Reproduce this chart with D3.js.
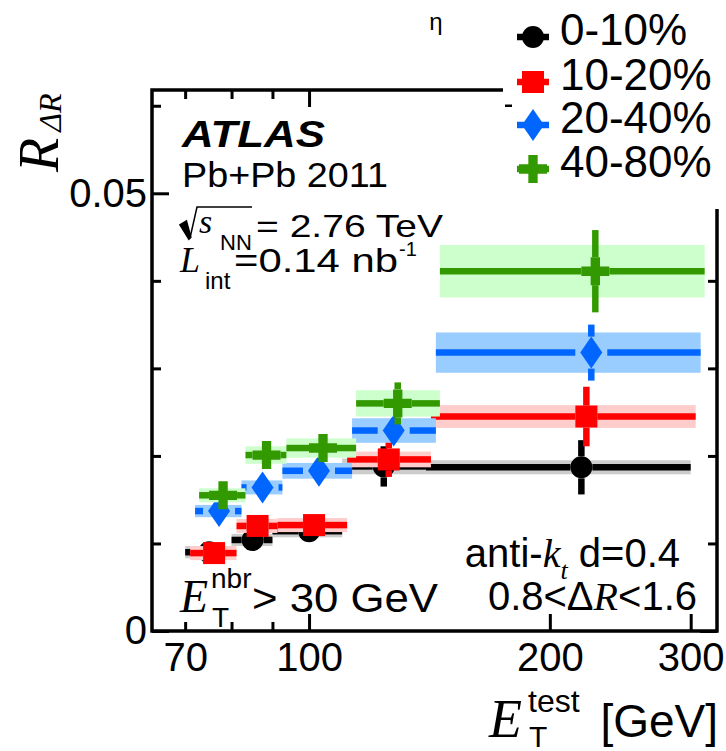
<!DOCTYPE html>
<html>
<head>
<meta charset="UTF-8">
<title>R_dR vs ET test</title>
<script src="https://cdn.jsdelivr.net/npm/d3@7"></script>
<style>
  body { margin: 0; background: #fff; }
  text { font-family: "Liberation Sans", Arial, sans-serif; fill: #000; }
  .it { font-family: "Liberation Serif", "Times New Roman", serif; font-style: italic; }
</style>
</head>
<body>
<script>
// bins in E_T^test [GeV]
var binLo = [70, 80, 90, 110, 140];
var binHi = [80, 90, 110, 140, 300];
var binCenter = [75, 85, 100, 124, 219];

var centralities = ["0-10%", "10-20%", "20-40%", "40-80%"];
// small horizontal offset of each centrality (multiplicative, as in the plot)
var xShift = [1.0, 1.0145, 1.029, 1.041];

var val0010 = [0.0090, 0.0104, 0.0114, 0.0188, 0.0187];
var val1020 = [0.0089, 0.0120, 0.0121, 0.0196, 0.0245];
var val2040 = [0.0137, 0.0164, 0.0183, 0.0229, 0.0318];
var val4080 = [0.0155, 0.0201, 0.0209, 0.0260, 0.0411];

var stat0010 = [0.0005, 0.0006, 0.0006, 0.0023, 0.0031];
var stat1020 = [0.0005, 0.0007, 0.0007, 0.0020, 0.0034];
var stat2040 = [0.0008, 0.0010, 0.0010, 0.0017, 0.0032];
var stat4080 = [0.0008, 0.0010, 0.0010, 0.0024, 0.0047];

var sys0010 = [0.0007, 0.0007, 0.0007, 0.0009, 0.0008];
var sys1020 = [0.0008, 0.0008, 0.0008, 0.0009, 0.0013];
var sys2040 = [0.0007, 0.0008, 0.0009, 0.0014, 0.0023];
var sys4080 = [0.0008, 0.0010, 0.0011, 0.0015, 0.0030];

var xTickLabels = [70, 100, 200, 300];
var xTickMinor = [70, 80, 90];
var xTickMajor = [100, 200, 300];
var yTickLabels = [0, 0.05];
var yTickMinor = [0.01, 0.02, 0.03, 0.04, 0.06];

var W = 726, H = 751;
var pl = 152, pr = 717, pt = 90, pb = 631;

var svg = d3.select("body").append("svg")
    .attr("width", W).attr("height", H);

var x = d3.scaleLog().domain([63.63, 323.6]).range([pl, pr]);
var y = d3.scaleLinear().domain([0, 0.0618]).range([pb, pt]);

var lineCol = ["#000000", "#ff0000", "#0066ff", "#339900"];
var bandCol = ["#cccccc", "#ffcccc", "#99ccff", "#ccffcc"];
var gaps = [11, 11, 16, 14];

var diamond = {
    draw: function(ctx, size) {
        var h = 16, w = 11;
        ctx.moveTo(0, -h); ctx.lineTo(w, 0); ctx.lineTo(0, h); ctx.lineTo(-w, 0); ctx.closePath();
    }
};
var markers = [
    d3.symbol().type(d3.symbolCircle).size(Math.PI * 11 * 11),
    d3.symbol().type(d3.symbolSquare).size(22 * 22),
    d3.symbol().type(diamond).size(1),
    d3.symbol().type(d3.symbolCross).size(5 * (28 / 3) * (28 / 3))
];

var vals = [val0010, val1020, val2040, val4080];
var stats = [stat0010, stat1020, stat2040, stat4080];
var syss = [sys0010, sys1020, sys2040, sys4080];

// axes (inward ticks, no domain line)
function inAxis(g) { g.select(".domain").remove(); g.selectAll("line").attr("stroke", "#000").attr("stroke-width", 3); }

svg.append("g").attr("transform", "translate(0," + pb + ")")
    .call(d3.axisBottom(x).tickValues(xTickMinor).tickSize(-9).tickFormat(""))
    .call(inAxis);
svg.append("g").attr("transform", "translate(0," + pb + ")")
    .call(d3.axisBottom(x).tickValues(xTickMajor).tickSize(-17).tickFormat(""))
    .call(inAxis);
svg.append("g").attr("transform", "translate(0," + pt + ")")
    .call(d3.axisTop(x).tickValues(xTickMinor).tickSize(-9).tickFormat(""))
    .call(inAxis);
svg.append("g").attr("transform", "translate(0," + pt + ")")
    .call(d3.axisTop(x).tickValues(xTickMajor).tickSize(-17).tickFormat(""))
    .call(inAxis);

var xl = svg.append("g").attr("transform", "translate(0," + pb + ")")
    .call(d3.axisBottom(x).tickValues(xTickLabels).tickSize(0).tickPadding(12).tickFormat(d3.format("d")))
    .call(inAxis);
xl.selectAll("text").attr("font-size", 40).attr("font-family", "Liberation Sans");

svg.append("g").attr("transform", "translate(" + pl + ",0)")
    .call(d3.axisLeft(y).tickValues(yTickMinor).tickSize(-9).tickFormat(""))
    .call(inAxis);
var yl = svg.append("g").attr("transform", "translate(" + pl + ",0)")
    .call(d3.axisLeft(y).tickValues(yTickLabels).tickSize(-17).tickPadding(5)
        .tickFormat(function(d) { return d === 0 ? "0" : d3.format(".2f")(d); }))
    .call(inAxis);
yl.selectAll("text").attr("font-size", 40).attr("font-family", "Liberation Sans");
svg.append("g").attr("transform", "translate(" + pr + ",0)")
    .call(d3.axisRight(y).tickValues(yTickMinor).tickSize(-9).tickFormat(""))
    .call(inAxis);
svg.append("g").attr("transform", "translate(" + pr + ",0)")
    .call(d3.axisRight(y).tickValues(yTickLabels).tickSize(-17).tickFormat(""))
    .call(inAxis);

// frame
svg.append("rect").attr("x", pl).attr("y", pt)
    .attr("width", pr - pl).attr("height", pb - pt)
    .attr("fill", "none").attr("stroke", "#000").attr("stroke-width", 3.5);

// data
var plot = svg.append("g");
centralities.forEach(function(c, s) {
    var g = plot.append("g");
    var pts = vals[s].map(function(v, i) {
        return {
            xl: x(binLo[i] * xShift[s]), xr: x(binHi[i] * xShift[s]), xc: x(binCenter[i] * xShift[s]),
            yc: y(v), yt: y(v + syss[s][i]), yb: y(v - syss[s][i]),
            st: y(0) - y(stats[s][i])
        };
    });
    g.selectAll("rect.band").data(pts).enter().append("rect")
        .attr("x", function(d) { return d.xl; })
        .attr("y", function(d) { return d.yt; })
        .attr("width", function(d) { return d.xr - d.xl; })
        .attr("height", function(d) { return d.yb - d.yt; })
        .attr("fill", bandCol[s]);
    var gap = gaps[s];
    pts.forEach(function(d) {
        var segs = [[d.xl, d.yc, d.xc - gap, d.yc], [d.xc + gap, d.yc, d.xr, d.yc]];
        if (d.st > gap) {
            segs.push([d.xc, d.yc - d.st, d.xc, d.yc - gap]);
            segs.push([d.xc, d.yc + gap, d.xc, d.yc + d.st]);
        }
        segs.forEach(function(sg) {
            g.append("line").attr("x1", sg[0]).attr("y1", sg[1]).attr("x2", sg[2]).attr("y2", sg[3])
                .attr("stroke", lineCol[s]).attr("stroke-width", 6.5);
        });
    });
    g.selectAll("path.mk").data(pts).enter().append("path")
        .attr("transform", function(d) { return "translate(" + d.xc + "," + d.yc + ")"; })
        .attr("d", markers[s]())
        .attr("fill", lineCol[s]);
});

// legend (covers frame corner)
svg.append("rect").attr("x", 503).attr("y", 0).attr("width", W - 503).attr("height", 209).attr("fill", "#fff");
svg.append("line").attr("x1", 505).attr("x2", 512).attr("y1", y(0.06)).attr("y2", y(0.06))
    .attr("stroke", "#000").attr("stroke-width", 2.5);
svg.append("text").attr("x", 436).attr("y", 30).attr("font-size", 24).attr("text-anchor", "middle").text("η");

var legY = [45, 90, 133, 177];
centralities.forEach(function(c, s) {
    var my = legY[s] - 8;
    svg.append("line").attr("x1", 517).attr("x2", 549).attr("y1", my).attr("y2", my)
        .attr("stroke", lineCol[s]).attr("stroke-width", 6.5);
    svg.append("path").attr("transform", "translate(533," + my + ")")
        .attr("d", markers[s]()).attr("fill", lineCol[s]);
    svg.append("text").attr("x", 560).attr("y", legY[s]).attr("font-size", 44).text(c);
});

// labels inside the frame
svg.append("text").attr("x", 182).attr("y", 147).attr("font-size", 36)
    .attr("font-weight", "bold").attr("font-style", "italic")
    .attr("textLength", 143).attr("lengthAdjust", "spacingAndGlyphs").text("ATLAS");
svg.append("text").attr("x", 182).attr("y", 187).attr("font-size", 35)
    .attr("textLength", 206).attr("lengthAdjust", "spacingAndGlyphs").text("Pb+Pb 2011");

svg.append("path").attr("d", "M180,226 L186,223 L190,238 L197,207 L252,207")
    .attr("fill", "none").attr("stroke", "#000").attr("stroke-width", 1.5);
svg.append("path").attr("d", "M181,225 L186,222 L190,237 L189,238 Z")
    .attr("fill", "#000").attr("stroke", "#000").attr("stroke-width", 3);
svg.append("text").attr("class", "it").attr("x", 199).attr("y", 233).attr("font-size", 34).text("s");
svg.append("text").attr("x", 220).attr("y", 250).attr("font-size", 22).text("NN");
svg.append("text").attr("x", 256).attr("y", 237).attr("font-size", 32)
    .attr("textLength", 187).attr("lengthAdjust", "spacingAndGlyphs").text("= 2.76 TeV");

svg.append("text").attr("class", "it").attr("x", 180).attr("y", 272).attr("font-size", 36).text("L");
svg.append("text").attr("x", 205).attr("y", 289).attr("font-size", 24).text("int");
svg.append("text").attr("x", 234).attr("y", 272).attr("font-size", 33)
    .attr("textLength", 164).attr("lengthAdjust", "spacingAndGlyphs").text("=0.14 nb");
svg.append("text").attr("x", 399).attr("y", 256).attr("font-size", 20).text("-1");

var ak = svg.append("text").attr("x", 680).attr("y", 567).attr("font-size", 40).attr("text-anchor", "end");
ak.append("tspan").text("anti-");
ak.append("tspan").attr("class", "it").text("k");
ak.append("tspan").attr("class", "it").attr("font-size", 26).attr("dy", 12).text("t");
ak.append("tspan").attr("dy", -12).text(" d=0.4");

var dr = svg.append("text").attr("x", 697).attr("y", 610).attr("font-size", 40).attr("text-anchor", "end");
dr.append("tspan").text("0.8<Δ");
dr.append("tspan").attr("class", "it").text("R");
dr.append("tspan").text("<1.6");

svg.append("text").attr("class", "it").attr("x", 180).attr("y", 612).attr("font-size", 46).text("E");
svg.append("text").attr("x", 211).attr("y", 588).attr("font-size", 28).text("nbr");
svg.append("text").attr("x", 212).attr("y", 627).attr("font-size", 28).text("T");
svg.append("text").attr("x", 252).attr("y", 612).attr("font-size", 40)
    .attr("textLength", 186).attr("lengthAdjust", "spacingAndGlyphs").text("> 30 GeV");

// x title
svg.append("text").attr("class", "it").attr("x", 489).attr("y", 737).attr("font-size", 54).text("E");
svg.append("text").attr("x", 528).attr("y", 712).attr("font-size", 32).text("test");
svg.append("text").attr("x", 529).attr("y", 747).attr("font-size", 30).text("T");
svg.append("text").attr("x", 718).attr("y", 737).attr("font-size", 46).attr("text-anchor", "end").text("[GeV]");

// y title
var yt = svg.append("text").attr("transform", "translate(58,172) rotate(-90)").attr("font-size", 56);
yt.append("tspan").attr("class", "it").text("R");
yt.append("tspan").attr("class", "it").attr("font-size", 32).attr("dy", 3).attr("dx", 6).text("ΔR");
</script>
</body>
</html>
